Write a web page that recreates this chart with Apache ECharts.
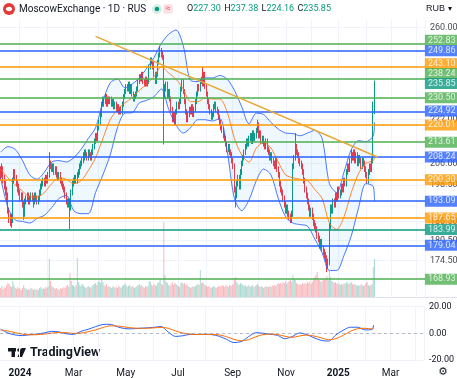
<!DOCTYPE html>
<html>
<head>
<meta charset="utf-8">
<title>MoscowExchange · 1D · RUS</title>
<script src="https://cdn.jsdelivr.net/npm/echarts@6/dist/echarts.min.js"></script>
<style>
  html, body { margin: 0; padding: 0; background: #fff; }
  #chart { width: 457px; height: 378px; }
</style>
</head>
<body>
<div id="chart"></div>
<script>
  // daily candles: [open, close, low, high]
  const candles = [
    [203,202,200,205],[202,204,201,206],[204,201,199,205],[201,199,197,202],[199,197,195,200],
    [197,195,193,198],[195,190,189,196],[190,188,186,191],[188,186,185,189],[186,187,184.5,189],
    [187,200,186,201],[200,203,199,204],[203,201,200,204],[201,199,198,202],[199,198,196,200],
    [198,196,195,199],[196,194,193,197],[194,195,193,196],[195,193,191,196],[193,189,187,193],
    [189,193,188,194],[193,194,192,195],[194,195,193,196],[195,193,192,196],[193,194,192,195],
    [194,195,193,196],[195,194,193,196],[194,193,191,195],[193,195,192,196],[195,194,193,196],
    [194,193,192,195],[193,194,192,195],[194,196,193,197],[196,198,195,199],[198,199,197,200],
    [199,200,198,201],[200,199,198,201],[199,201,198,202],[201,200,199,202],[200,202,199,203],
    [202,206,201,210],[206,205,204,207],[205,204,203,206],[204,205,203,206],[205,203,202,206],
    [203,204,202,205],[204,202,201,205],[202,201,200,203],[201,202,200,203],[202,200,199,203],
    [200,199,198,201],[199,198,197,200],[198,197,196,199],[197,195,194,198],[195,193,192,196],
    [193,192,191,194],[192,193,191,194],[193,191,184,194],[191,196,190,197],[196,199,195,200],
    [199,200,198,201],[200,201,199,202],[201,200,199,202],[200,202,199,203],[202,203,201,204],
    [203,205,202,206],[205,206,204,207],[206,207,205,208],[207,208,206,210],[208,209,207,211],
    [209,209.5,208,211],[209.5,208,207,210],[208,210,207,211],[210,209,208,211],[209,208,207,210],
    [208,210,207,211],[210,212,209,213],[212,214,211,215],[214,216,213,217],[216,215,214,217],
    [215,219,214,220],[219,221,218,222],[221,224,220,225],[224,228,223,229],[228,230,227,231],
    [230,229,227,231],[229,231,228,232],[231,228,227,232],[228,230,227,231],[230,229,228,231],
    [229,230,228,231],[230,228,227,231],[228,229,227,230],[229,227,226,230],[227,228,226,229],
    [228,226,225,229],[226,227,225,228],[227,225,224,228],[225,226,224,227],[226,225,224,227],
    [225,228,224,229],[228,231,227,232],[231,233,230,234],[233,235,232,236],[235,234,233,236],
    [234,236,233,237],[236,233,232,237],[233,235,232,236],[235,232,231,236],[232,230,229,233],
    [230,231,229,232],[231,232,230,233],[232,234,231,235],[234,237,233,238],[237,239,236,240],
    [239,238,237,240],[238,240,237,241],[240,237,236,241],[237,236,235,238],[236,238,235,239],
    [238,236,235,239],[236,237,235,238],[237,243,236,244],[243,246,242,247],[246,245,244,247],
    [245,244,242,246],[244,240,239,245],[240,237,236,241],[237,240,236,241],[240,245,239,246],
    [245,248,244,249],[248,250,247,252],[250,249,247,251],[249,247,246,250],[247,232,212.8,248],
    [232,234,230,236],[234,236,233,237],[236,231,230,237],[231,233,230,234],[233,230,229,234],
    [230,226,225,231],[226,222,221,227],[222,224,221,225],[224,221,220,225],[221,225,220,226],
    [225,228,224,229],[228,227,226,229],[227,229,226,230],[229,234,228,235],[234,237,233,238],
    [237,233,232,238],[233,229,228,234],[229,225,224,230],[225,222,221,226],[222,224,221,225],
    [224,226,223,227],[226,225,224,227],[225,227,224,228],[227,224,223,228],[224,226,223,227],
    [226,229,225,230],[229,232,228,233],[232,235,231,236],[235,234,233,236],[234,237,233,238],
    [237,238,236,239],[238,236,235,243],[236,240,235,241],[240,235,234,241],[235,232,231,236],
    [232,229,228,233],[229,227,226,230],[227,225,224,228],[225,223,222,226],[223,224,222,225],
    [224,227,223,228],[227,228,226,229],[228,226,225,229],[226,225,224,227],[225,223,222,226],
    [223,221,220,224],[221,219,218,222],[219,218,217,220],[218,216,215,219],[216,215,214,217],
    [215,213,212,216],[213,211,210,214],[211,212,210,213],[212,210,209,213],[210,209,208,211],
    [209,207,206,210],[207,205,204,208],[205,197,196,206],[197,195,191,198],[195,199,194,200],
    [199,201,198,202],[201,198,197,202],[198,203,197,204],[203,206,202,207],[206,208,205,209],
    [208,210,207,211],[210,212,209,213],[212,214,211,215],[214,213,212,215],[213,215,212,216],
    [215,216,214,217],[216,214,213,217],[214,217,213,218],[217,215,214,218],[215,216,214,217],
    [216,218,215,219],[218,220,217,222],[220,216,215,221],[216,217,215,218],[217,214,213,218],
    [214,215,213,216],[215,213,212,216],[213,212,211,214],[212,214,211,215],[214,211,210,215],
    [211,210,209,212],[210,208,207,211],[208,209,207,210],[209,207,206,210],[207,206,205,208],
    [206,205,204,207],[205,207,204,208],[207,204,203,208],[204,202,201,205],[202,199,198,203],
    [199,197,196,200],[197,196,195,198],[196,194,193,197],[194,192,191,195],[192,190,189,193],
    [190,191,189,192],[191,189,188,192],[189,188,187,190],[188,187,186,189],[187,189,186,190],
    [189,205,188,206],[205,208,204,209],[208,212,207,217],[212,210,209,213],[210,209,208,211],
    [209,207,206,210],[207,206,205,208],[206,205,204,207],[205,203,202,206],[203,200,199,204],
    [200,197,196,201],[197,195,194,198],[195,193,192,196],[193,191,190,194],[191,189,188,192],
    [189,190,188,191],[190,188,187,191],[188,186,185,189],[186,185,184,187],[185,184,183,186],
    [184,182,181,185],[182,181,180,183],[181,179,178,182],[179,180,178,181],[180,178,177,181],
    [178,177,176,179],[177,176,175,178],[176,175,174,177],[175,173,171,176],[173,174,172,175],
    [174,185,173,186],[185,191,184,192],[191,190,189,192],[190,193,189,194],[193,192,191,194],
    [192,195,191,196],[195,194,193,196],[194,197,193,198],[197,195,194,198],[195,196,194,197],
    [196,198,195,199],[198,197,196,199],[197,200,196,201],[200,199,198,201],[199,203,198,204],
    [203,205,202,206],[205,204,203,206],[204,207,203,208],[207,209,206,211],[209,208,207,210],
    [208,210,207,211],[210,207,206,211],[207,209,206,210],[209,206,205,210],[206,208,205,209],
    [208,207,206,209],[207,205,204,208],[205,207,204,208],[207,206,205,208],[206,204,203,207],
    [204,202,201,205],[202,200,199,203],[200,203,199,204],[203,205,202,206],[205,204,203,206],
    [204,207,203,208],[207,227.3,206,229],[227.3,235.85,224.16,237.38]
  ];

  // volume, millions of shares
  const volumes = [
    9,11,8,10,9,12,14,13,11,10, 16,12,9,8,10,9,8,7,9,12,
    9,8,7,8,7,9,8,7,8,7, 8,7,9,10,8,9,8,10,9,11,
    38,16,11,10,9,8,9,8,7,9, 8,9,10,9,11,12,10,24,16,12,
    11,10,12,39,15,12,11,13,12,10, 9,10,11,10,9,11,12,13,14,12,
    15,16,14,18,15,12,11,13,10,11, 10,9,10,11,9,10,9,11,10,9,
    11,12,13,12,10,11,12,10,11,10, 9,10,11,12,13,11,12,10,9,11,
    10,11,16,15,12,11,13,12,11,14, 15,17,13,12,75,22,15,14,12,11,
    13,15,12,14,13,12,11,10,14,15, 13,14,12,13,11,10,9,10,11,10,
    11,12,13,12,27,14,15,13,12,11, 10,11,10,9,10,11,10,9,10,11,
    10,11,12,11,10,12,11,10,12,11, 12,13,18,20,15,13,12,14,13,12,
    11,12,10,11,12,10,11,12,10,11, 12,13,11,10,11,10,9,10,11,10,
    10,11,10,12,11,12,11,13,14,13, 14,13,15,14,16,13,15,16,17,15,
    22,18,17,14,13,12,13,12,14,13, 14,13,15,14,16,13,15,18,20,22,
    25,19,17,15,16,18,17,19,21,18, 26,20,16,15,14,15,13,14,13,12,
    13,12,14,13,15,14,13,14,15,13, 12,13,12,11,12,11,13,12,11,12,
    14,15,12,11,12,13,30,38
  ];

  // Bollinger Bands and MACD, read every 6th bar
  const bandIdx = [0,6,12,18,24,30,36,42,48,54,60,66,72,78,84,90,96,102,108,114,120,126,132,138,
    144,150,156,162,168,174,180,186,192,198,204,210,216,222,228,234,240,246,252,258,264,270,276,
    282,288,294,300,306,307];
  const bbUpper = [210,212,211,207,202,200.5,203,206.5,207,206.5,208,211,215,219,229,236.5,238,234.5,
    236,238.5,242.5,247,253,257,258.9,252,237.5,237,238.5,238.5,239.5,238,233.5,227,220.5,224.5,224,
    221,218.5,217,216.8,216,217,218,215,199,196,203,211,214.2,213.8,216,221];
  const bbBasis = [204,201,198.5,196.5,194.5,194.5,196,199,201,200.5,199,200,203.5,208,215,222,226,
    228.5,230.5,233.5,236,239,243,240.5,238,234,229,229,230.5,230,230,225,215,209,206.5,211.5,213.5,
    211.5,206.5,202,201,200.5,200,197,194,186,184,188,196,202.5,206,207,208];
  const bbLower = [201,191,187,186.5,186,187.5,188.5,191,194,195,190,189,189,196,202,209,219,224.5,
    224.7,228.5,229.5,231,234,226,220,217,219,222,222,221.5,222.5,210.6,194,190,193.5,200,204,202,194,
    188,186,185.5,185,181,176.8,171.5,171.5,176,182,191,199,198,193];
  const macdLine = [3.2,0.3,-1.2,-1.7,-1.0,-0.6,0.4,1.5,1.1,-0.3,-0.8,1.5,3.0,5.0,6.6,6.8,5.0,3.6,3.4,
    3.8,4.1,4.5,5.1,1.0,-2.3,-1.8,-0.8,-0.9,-0.7,-1.0,-2.2,-4.5,-6.9,-6.2,-2.6,0.5,0.1,-0.7,-1.5,-4.0,
    -2.5,0.3,-1.0,-3.3,-5.3,-5.8,-1.2,2.3,4.6,4.6,2.6,3.0,6.3];
  const signalLine = [2.5,1.8,0.5,-0.6,-1.1,-1.0,-0.6,0.2,0.7,0.5,0,0.2,1.2,2.6,4.3,5.6,5.5,4.8,4.1,
    3.8,3.8,4.1,4.5,3.8,1.8,0.2,-0.6,-0.8,-0.8,-0.8,-1.2,-2.5,-4.5,-5.6,-4.8,-2.6,-1.0,-0.6,-0.9,-2.2,
    -3.0,-2.0,-1.3,-2.0,-3.4,-4.8,-4.0,-1.5,1.5,3.5,3.8,3.3,3.8];

  // horizontal levels drawn on the chart
  const levels = [252.83, 249.86, 243.10, 238.24, 230.50, 224.92, 220.01, 213.61, 208.24,
    200.30, 193.09, 187.65, 183.99, 179.04, 168.93];
  // price scale tick labels
  const priceTicks = [260, 222, 206, 198.5, 186.5, 180.5, 174.5];
  // falling trend line
  const trendPts = [['2024-03-27', 256.1], ['2025-02-14', 208.2]];

  const firstDay = '2023-12-08';
  const dayCount = 349;
  const monthNames = ['Jan', 'Feb', 'Mar', 'Apr', 'May', 'Jun', 'Jul', 'Aug', 'Sep', 'Oct', 'Nov', 'Dec'];

  // trading days (weekdays) on the time scale
  const dates = [];
  (function () {
    const d = new Date(firstDay + 'T00:00:00Z');
    while (dates.length < dayCount) {
      const wd = d.getUTCDay();
      if (wd !== 0 && wd !== 6) dates.push(d.toISOString().slice(0, 10));
      d.setUTCDate(d.getUTCDate() + 1);
    }
  })();
  const isMonthStart = (i) => i > 0 && dates[i].slice(5, 7) !== dates[i - 1].slice(5, 7);

  const UP = '#089981';
  const DOWN = '#f23645';
  const GREEN = '#4caf50';
  const BLUE = '#2962ff';
  const ORANGE = '#ff9800';
  const TEAL = '#089981';
  const levelColors = [GREEN, BLUE, ORANGE, GREEN, GREEN, BLUE, ORANGE, GREEN, BLUE,
    ORANGE, BLUE, ORANGE, TEAL, BLUE, GREEN];
  const levelNudge = [-3.5, 0, -3, -5, 0, -1, 0, 0, 0, 0, 0, 0, 0, 0, 0];
  const lastIdx = dayCount - 1;
  const last = candles[candles.length - 1];

  const pairs = (vals) => bandIdx.map((i, k) => [i, vals[k]]);
  const tagLabel = (text, bg, dy) => ({
    show: true, position: 'right', distance: 0, offset: [0, dy],
    formatter: text, backgroundColor: bg, color: '#fff',
    fontSize: 9, lineHeight: 10, padding: [1, 3, 0, 3]
  });

  const chart = echarts.init(document.getElementById('chart'));

  const option = {
    animation: false,
    backgroundColor: '#fff',
    textStyle: { fontFamily: 'Roboto, sans-serif' },
    grid: [
      { left: 0, right: 32, top: 20, bottom: 81 },
      { left: 0, right: 32, top: 200, bottom: 81 },
      { left: 0, right: 32, top: 306.7, bottom: 18 }
    ],
    xAxis: [0, 1, 2].map((k) => ({
      type: 'category',
      gridIndex: k,
      data: dates,
      axisLine: { show: false },
      axisTick: { show: false },
      axisLabel: k === 2 ? {
        interval: (i) => isMonthStart(i) && (+dates[i].slice(5, 7)) % 2 === 1,
        formatter: (v) => v.slice(5, 7) === '01' ? '{y|' + v.slice(0, 4) + '}' : monthNames[+v.slice(5, 7) - 1],
        fontSize: 10,
        color: '#131722',
        margin: 8,
        rich: { y: { fontSize: 10, fontWeight: 'bold', color: '#131722' } }
      } : { show: false },
      splitLine: k === 1 ? { show: false } : {
        show: true,
        interval: (i) => isMonthStart(i),
        lineStyle: { color: '#f0f3fa', width: 1 }
      }
    })),
    yAxis: [
      { type: 'log', logBase: 10, gridIndex: 0, min: 163.87, max: 263.36, show: false },
      { type: 'value', gridIndex: 1, min: 0, max: 97, show: false },
      {
        type: 'value', gridIndex: 2, position: 'right', min: -20, max: 20, interval: 20,
        axisLine: { show: false },
        axisTick: { show: false },
        axisLabel: { margin: 5, fontSize: 9, color: '#131722', formatter: (v) => v.toFixed(2) },
        splitLine: { lineStyle: { color: '#f0f3fa' } }
      }
    ],
    series: [
      {
        name: 'BB lower',
        type: 'line', xAxisIndex: 0, yAxisIndex: 0,
        data: pairs(bbLower),
        stack: 'bb', symbol: 'none', smooth: 0.3,
        lineStyle: { color: BLUE, width: 1, opacity: 0.85 }
      },
      {
        name: 'BB upper',
        type: 'line', xAxisIndex: 0, yAxisIndex: 0,
        data: bandIdx.map((i, k) => [i, bbUpper[k] - bbLower[k]]),
        stack: 'bb', symbol: 'none', smooth: 0.3,
        lineStyle: { color: BLUE, width: 1, opacity: 0.85 },
        areaStyle: { color: 'rgba(33,150,243,0.1)' }
      },
      {
        name: 'BB basis',
        type: 'line', xAxisIndex: 0, yAxisIndex: 0,
        data: pairs(bbBasis),
        symbol: 'none', smooth: 0.3,
        lineStyle: { color: '#ff6d00', width: 1, opacity: 0.8 }
      },
      {
        name: 'MOEX',
        type: 'candlestick', xAxisIndex: 0, yAxisIndex: 0,
        data: candles,
        barWidth: 1,
        itemStyle: { color: UP, color0: DOWN, borderColor: UP, borderColor0: DOWN, borderWidth: 1 },
        markLine: {
          silent: true,
          symbol: ['none', 'none'],
          label: { show: false },
          data: levels.map((v, k) => ({
            yAxis: v,
            lineStyle: { color: levelColors[k], width: 1.5, type: 'solid' }
          })).concat([[
            { coord: trendPts[0], lineStyle: { color: '#e8a838', width: 1.5, type: 'solid' } },
            { coord: trendPts[1] }
          ]])
        }
      },
      {
        name: 'ticks',
        type: 'scatter', xAxisIndex: 0, yAxisIndex: 0, z: 6, silent: true,
        symbolSize: 1, itemStyle: { color: 'rgba(0,0,0,0)' },
        data: priceTicks.map((v) => ({
          value: [lastIdx, v],
          label: { show: true, position: 'right', distance: 0, offset: [5, 0], formatter: v.toFixed(2), color: '#131722', fontSize: 9 }
        })),
        markLine: {
          silent: true, z: 1,
          symbol: ['none', 'none'],
          label: { show: false },
          data: priceTicks.map((v) => ({ yAxis: v, lineStyle: { color: '#f0f3fa', width: 1, type: 'solid' } }))
        }
      },
      {
        name: 'tags',
        type: 'scatter', xAxisIndex: 0, yAxisIndex: 0, z: 10, silent: true,
        symbolSize: 1, itemStyle: { color: 'rgba(0,0,0,0)' },
        data: levels.map((v, k) => ({
          value: [lastIdx, v],
          label: tagLabel(v.toFixed(2), levelColors[k], levelNudge[k])
        })).concat([{
          value: [lastIdx, last[1]],
          label: tagLabel(last[1].toFixed(2), TEAL, -1)
        }])
      },
      {
        name: 'Volume',
        type: 'bar', xAxisIndex: 1, yAxisIndex: 1,
        barWidth: 1,
        data: volumes.map((v, i) => ({
          value: v,
          itemStyle: { color: candles[i][1] >= candles[i][0] ? 'rgba(8,153,129,0.35)' : 'rgba(242,54,69,0.35)' }
        }))
      },
      {
        name: 'MACD',
        type: 'line', xAxisIndex: 2, yAxisIndex: 2,
        data: pairs(macdLine),
        symbol: 'none', smooth: 0.3,
        lineStyle: { color: BLUE, width: 1 },
        markLine: {
          silent: true,
          symbol: ['none', 'none'],
          label: { show: false },
          data: [{ yAxis: 0, lineStyle: { color: 'rgba(120,123,134,0.45)', width: 1, type: [3, 3] } }]
        }
      },
      {
        name: 'Signal',
        type: 'line', xAxisIndex: 2, yAxisIndex: 2,
        data: pairs(signalLine),
        symbol: 'none', smooth: 0.3,
        lineStyle: { color: '#ff6d00', width: 1 }
      }
    ],
    graphic: [
      // header
      { type: 'circle', shape: { cx: 9, cy: 9, r: 6 }, style: { fill: '#e53935' } },
      { type: 'ellipse', shape: { cx: 9, cy: 9, rx: 3.2, ry: 2.2 }, style: { fill: '#fff' } },
      {
        type: 'text', x: 19, y: 9,
        style: { text: 'MoscowExchange · 1D · RUS', fontSize: 10, fill: '#131722', verticalAlign: 'middle', fontFamily: 'Roboto' }
      },
      { type: 'circle', shape: { cx: 157, cy: 9, r: 5 }, style: { fill: '#d5efe7' } },
      { type: 'circle', shape: { cx: 157, cy: 9, r: 2.3 }, style: { fill: UP } },
      { type: 'rect', shape: { x: 163, y: 4, width: 10, height: 10, r: 3 }, style: { fill: '#fde3e6' } },
      {
        type: 'text', x: 168, y: 9,
        style: { text: '≈', fontSize: 9, fill: DOWN, align: 'center', verticalAlign: 'middle' }
      },
      {
        type: 'text', x: 187, y: 9,
        style: {
          text: '{l|O}{v|' + last[0].toFixed(2) + '} {l|H}{v|' + last[3].toFixed(2) + '} {l|L}{v|' +
            last[2].toFixed(2) + '} {l|C}{v|' + last[1].toFixed(2) + '}',
          verticalAlign: 'middle',
          rich: {
            l: { fontSize: 9, fill: '#131722', fontFamily: 'Roboto' },
            v: { fontSize: 9, fill: UP, fontFamily: 'Roboto' }
          }
        }
      },
      { type: 'text', x: 426, y: 9, style: { text: 'RUB', fontSize: 9, fill: '#131722', verticalAlign: 'middle' } },
      { type: 'text', x: 450, y: 9, style: { text: '▾', fontSize: 8, fill: '#131722', align: 'center', verticalAlign: 'middle', fontFamily: 'DejaVu Sans' } },
      // pane separator
      { type: 'line', shape: { x1: 0, y1: 297.5, x2: 457, y2: 297.5 }, style: { stroke: '#e0e3eb', lineWidth: 1 } },
      // TradingView logo
      { type: 'rect', shape: { x: 8, y: 348, width: 8, height: 3.5 }, style: { fill: '#131722' } },
      { type: 'rect', shape: { x: 11.5, y: 348, width: 3.5, height: 9 }, style: { fill: '#131722' } },
      { type: 'circle', shape: { cx: 19, cy: 350, r: 1.8 }, style: { fill: '#131722' } },
      { type: 'polygon', shape: { points: [[21.5, 348], [26, 348], [22, 357], [17.5, 357]] }, style: { fill: '#131722' } },
      {
        type: 'text', x: 30, y: 353,
        style: { text: 'TradingView', fontSize: 12.5, fontWeight: 'bold', fill: '#131722', verticalAlign: 'middle', fontFamily: 'Roboto' }
      },
      // settings icon
      {
        type: 'text', x: 443, y: 372,
        style: { text: '⚙', fontSize: 11, fill: '#131722', align: 'center', verticalAlign: 'middle', fontFamily: 'DejaVu Sans' }
      }
    ]
  };

  chart.setOption(option);
  window.addEventListener('resize', () => chart.resize());
</script>
</body>
</html>
